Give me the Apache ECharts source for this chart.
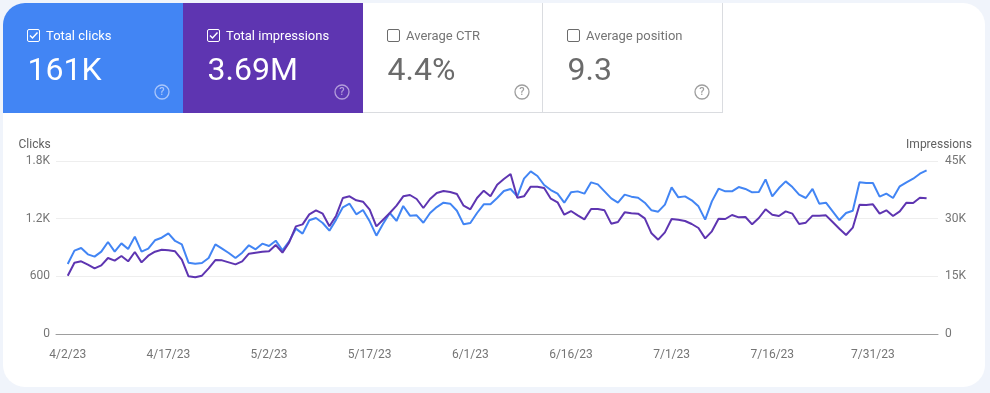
<!DOCTYPE html>
<html><head><meta charset="utf-8">
<style>html,body{margin:0;padding:0;background:#f0f4fb}#c{width:990px;height:393px}</style>
<script src="https://cdn.jsdelivr.net/npm/echarts@6/dist/echarts.min.js"></script>
</head><body><div id="c"></div>
<script>
const startDate = [2023, 4, 2];
const clicks = [728,867,895,829,805,857,957,857,943,884,1013,857,888,975,1002,1047,968,933,742,732,739,791,933,888,843,791,846,923,881,940,916,971,870,964,1096,1044,1183,1207,1155,1075,
1190,1318,1356,1245,1290,1172,1023,1148,1259,1176,1332,1231,1235,1158,1259,1321,1366,1356,1283,1141,1155,1259,1349,1349,1415,1488,1509,1432,1616,1692,1644,1550,1498,1460,1366,1474,1484,1460,1578,1557,1484,1411,1366,1450,1429,1418,1366,1287,1273,
1346,1526,1422,1432,1391,1328,1190,1380,1512,1484,1484,1529,1509,1474,1477,1609,1432,1519,1588,1529,1450,1415,1509,1356,1366,1276,1186,1259,1283,1578,1571,1571,1429,1460,1415,1536,1578,1616,1668,1703];
const impressions = [15173,18554,18901,18034,17080,17860,19768,19074,20288,18901,21328,18641,20375,21415,21935,21762,21502,19334,14999,14739,15173,17080,19247,19161,18641,18120,18901,20895,21155,21415,21502,23149,21155,23843,28004,28524,31125,32166,31299,28004,
30779,35374,35807,34767,34420,32339,28004,29738,31472,33380,35807,36154,35114,32773,35114,36674,37194,36934,36414,33380,32426,35374,37281,35807,38842,40316,41616,35460,35807,38321,38321,37975,35200,34247,31039,31992,30865,29825,32513,32513,32166,28698,29131,31646,31385,31299,30085,26183,24536,
26444,29912,29738,29391,28611,27571,24883,26704,29998,29912,30952,30345,30432,28524,30172,32426,31039,30692,31906,31299,28611,28958,30779,30779,30865,29131,27397,25750,27657,33640,33553,33726,31299,32166,30692,31906,34160,34073,35460,35287];
const dateTicks = [0,15,30,45,60,75,90,105,120];
const clickTicks = {0:'0',600:'600',1200:'1.2K',1800:'1.8K'};
const imprTicks = {0:'0',15000:'15K',30000:'30K',45000:'45K'};
const cards = [
 {label:'Total clicks',value:'161K',checked:true,bg:'#4285f4',fg:'#ffffff',help:'#a9c6fb'},
 {label:'Total impressions',value:'3.69M',checked:true,bg:'#5e35b1',fg:'#ffffff',help:'#b39ddb'},
 {label:'Average CTR',value:'4.4%',checked:false,bg:'#ffffff',fg:'#6b6b6b',help:'#9e9e9e'},
 {label:'Average position',value:'9.3',checked:false,bg:'#ffffff',fg:'#6b6b6b',help:'#9e9e9e'}
];
function dayLabel(i){
  const d = new Date(Date.UTC(startDate[0],startDate[1]-1,startDate[2]+i));
  return (d.getUTCMonth()+1)+'/'+d.getUTCDate()+'/'+String(d.getUTCFullYear()).slice(2);
}
const font = 'Roboto, sans-serif';
const g = [];
g.push({type:'rect',silent:true,shape:{x:3,y:3,width:982,height:384,r:22},style:{fill:'#ffffff'},z:0});
cards.forEach((c,i)=>{
  const x = 3 + i*180;
  if(c.bg!=='#ffffff'){
    g.push({type:'rect',silent:true,shape:{x:x,y:3,width:180,height:110,r:i===0?[22,0,0,0]:0},style:{fill:c.bg},z:1});
  } else {
    g.push({type:'line',silent:true,shape:{x1:x,y1:112.5,x2:x+180,y2:112.5},style:{stroke:'#dadce0',lineWidth:1},z:1});
    g.push({type:'line',silent:true,shape:{x1:x+179.5,y1:3,x2:x+179.5,y2:113},style:{stroke:'#dadce0',lineWidth:1},z:1});
  }
  g.push({type:'rect',silent:true,shape:{x:x+24.5,y:29.5,width:12,height:12,r:1.5},style:{fill:'none',stroke:c.fg,lineWidth:1},z:2});
  if(c.checked) g.push({type:'polyline',silent:true,shape:{points:[[x+27,35.5],[x+29.5,38],[x+34.5,32.5]]},style:{fill:'none',stroke:c.fg,lineWidth:1.4},z:2});
  g.push({type:'text',silent:true,style:{x:x+43,y:36.5,text:c.label,font:'13px '+font,fill:c.bg==='#ffffff'?'#757575':c.fg,verticalAlign:'middle'},z:2});
  g.push({type:'text',silent:true,style:{x:x+24.5,y:72,text:c.value,font:'32px '+font,fill:c.fg,verticalAlign:'middle'},z:2});
  g.push({type:'circle',silent:true,shape:{cx:x+159,cy:92,r:7},style:{fill:'none',stroke:c.help,lineWidth:1.3},z:2});
  g.push({type:'text',silent:true,style:{x:x+159,y:92.5,text:'?',font:'500 11px '+font,fill:c.help,align:'center',verticalAlign:'middle'},z:2});
});
const chart = echarts.init(document.getElementById('c'),null,{renderer:'canvas'});
chart.setOption({
  animation:false,
  backgroundColor:'#f0f4fb',
  graphic:g,
  grid:{left:56,right:52,top:161,height:173,containLabel:false},
  xAxis:{type:'value',min:-1.75,max:129.7,interval:15,
    axisLine:{show:true,onZero:false,lineStyle:{color:'#9e9e9e',width:1}},axisTick:{show:false},splitLine:{show:false},
    axisLabel:{customValues:dateTicks,formatter:v=>dayLabel(v),color:'#757575',fontFamily:'Roboto',fontSize:12,margin:15}},
  yAxis:[
   {type:'value',min:0,max:1800,interval:600,name:'Clicks',nameLocation:'end',nameGap:10,
    nameTextStyle:{color:'#616161',fontFamily:'Roboto',fontSize:12,align:'right',padding:[0,17,0,0]},
    axisLine:{show:false},axisTick:{show:false},splitLine:{lineStyle:{color:'#eeeeee',width:1}},
    axisLabel:{formatter:v=>clickTicks[v],color:'#757575',fontFamily:'Roboto',fontSize:12,margin:6,padding:[2,0,0,0]}},
   {type:'value',min:0,max:45000,interval:15000,name:'Impressions',nameLocation:'end',nameGap:10,
    nameTextStyle:{color:'#616161',fontFamily:'Roboto',fontSize:12,align:'center',padding:[0,0,0,2]},
    axisLine:{show:false},axisTick:{show:false},splitLine:{show:false},
    axisLabel:{formatter:v=>imprTicks[v],color:'#757575',fontFamily:'Roboto',fontSize:12,margin:7,padding:[2,0,0,0]}}
  ],
  series:[
   {name:'Clicks',type:'line',yAxisIndex:0,showSymbol:false,data:clicks.map((v,i)=>[i,v]),lineStyle:{color:'#4285f4',width:2},itemStyle:{color:'#4285f4'},z:3},
   {name:'Impressions',type:'line',yAxisIndex:1,showSymbol:false,data:impressions.map((v,i)=>[i,v]),lineStyle:{color:'#5e35b1',width:2},itemStyle:{color:'#5e35b1'},z:4}
  ]
});
</script></body></html>
